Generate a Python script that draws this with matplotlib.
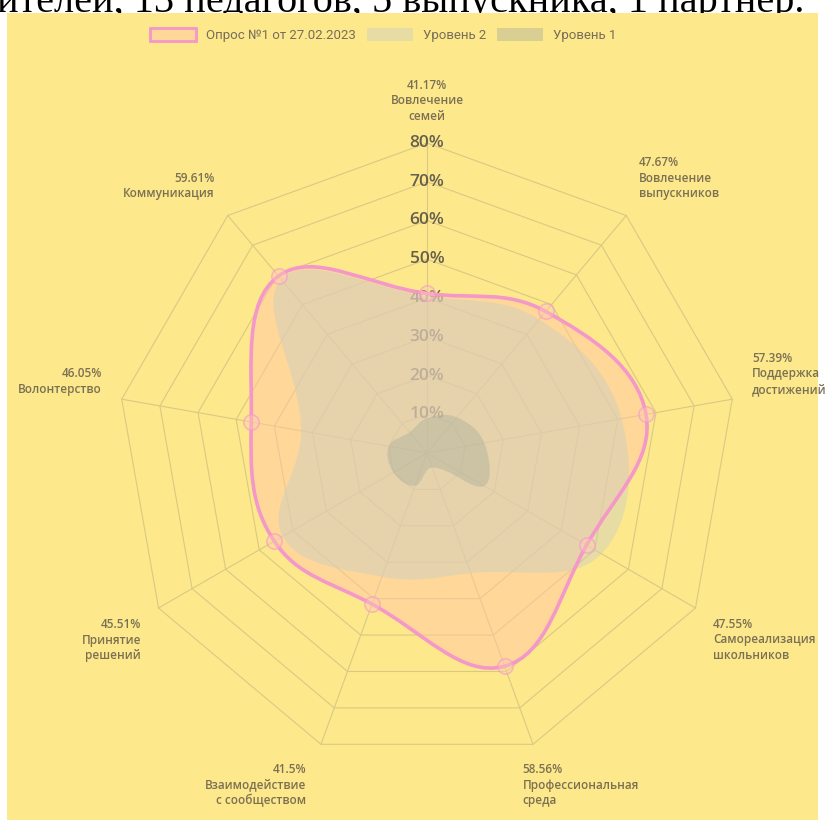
import numpy as np
import matplotlib
matplotlib.use("Agg")
import matplotlib.pyplot as plt
from matplotlib.path import Path
from matplotlib.patches import PathPatch, Patch, Rectangle

# данные опроса
categories = ["Вовлечение\nсемей", "Вовлечение\nвыпускников", "Поддержка\nдостижений",
              "Самореализация\nшкольников", "Профессиональная\nсреда",
              "Взаимодействие\nс сообществом", "Принятие\nрешений", "Волонтерство",
              "Коммуникация"]
survey = [41.17, 47.67, 57.39, 47.55, 58.56, 41.5, 45.51, 46.05, 59.61]
level2 = [40.5, 45, 51, 52, 33, 34, 43, 33, 58.5]
level1 = [9, 12, 15, 17, 4, 9, 10, 10, 7]
ticks = [10, 20, 30, 40, 50, 60, 70, 80]
rmax = 80

legend_labels = ["Опрос №1 от 27.02.2023", "Уровень 2", "Уровень 1"]
header = "ителей, 13 педагогов, 5 выпускника, 1 партнер."

yellow = "#fde88c"
pink = "#f497c9"
orange = (1.0, 0.78, 0.65, 0.5)
gray = (0.80, 0.81, 0.76, 0.45)
green = (0.66, 0.68, 0.61, 0.42)
gridc = "#dac983"
txtc = "#7a7052"

S = 3.875  # пикселей на 1%
cx, cy = 427, 453

n = len(categories)
ang = np.deg2rad(np.arange(n) * 360 / n)


def xy(vals):
    v = np.asarray(vals, dtype=float)
    return v * np.sin(ang), v * np.cos(ang)


def spline_path(vals, t=0.4):
    x, y = xy(vals)
    pts = np.column_stack([x, y])
    cps = []
    for i in range(n):
        p0, p1, p2 = pts[i - 1], pts[i], pts[(i + 1) % n]
        d01 = np.hypot(*(p1 - p0))
        d12 = np.hypot(*(p2 - p1))
        fa = t * d01 / (d01 + d12)
        fb = t * d12 / (d01 + d12)
        cps.append((p1 - fa * (p2 - p0), p1 + fb * (p2 - p0)))
    verts = [pts[0]]
    codes = [Path.MOVETO]
    for i in range(n):
        j = (i + 1) % n
        verts += [cps[i][1], cps[j][0], pts[j]]
        codes += [Path.CURVE4] * 3
    verts.append(pts[0])
    codes.append(Path.CLOSEPOLY)
    return Path(verts, codes)


fig = plt.figure(figsize=(8.25, 8.25), dpi=100, facecolor="white")
fig.patches.append(Rectangle((7 / 825, 5 / 825), 811 / 825, 807 / 825,
                             transform=fig.transFigure, facecolor=yellow,
                             edgecolor="none", zorder=-1))
fig.text(-0.004, 1 - 12 / 825, header, fontfamily="Liberation Serif",
         fontsize=29, color="black", va="baseline", ha="left", zorder=-2)

ax = fig.add_axes([0, 0, 1, 1])
ax.set_xlim(-cx / S, (825 - cx) / S)
ax.set_ylim(-(825 - cy) / S, cy / S)
ax.axis("off")
ax.patch.set_visible(False)

# сетка
for r in ticks:
    gx, gy = xy([r] * n)
    ax.plot(np.append(gx, gx[0]), np.append(gy, gy[0]), color=gridc, lw=0.8, zorder=1)
ox, oy = xy([rmax] * n)
for i in range(n):
    ax.plot([0, ox[i]], [0, oy[i]], color=gridc, lw=0.8, zorder=1)

for r in ticks:
    ax.text(0, r, f"{r}%", ha="center", va="center", fontsize=12.5,
            fontfamily="Open Sans", fontweight="semibold", color="#665f4c", zorder=1.5)

# заливки
ax.add_patch(PathPatch(spline_path(survey), facecolor=orange, edgecolor="none", zorder=2))
ax.add_patch(PathPatch(spline_path(level2), facecolor=gray, edgecolor="none", zorder=3))
ax.add_patch(PathPatch(spline_path(level1), facecolor=green, edgecolor="none", zorder=4))
ax.add_patch(PathPatch(spline_path(survey), facecolor="none", edgecolor=pink, lw=2.6, zorder=5))
px, py = xy(survey)
ax.plot(px, py, "o", ms=11, mfc=(1.0, 0.8, 0.7, 0.4), mec=(0.96, 0.6, 0.8, 0.6),
        mew=1.2, zorder=6)

# подписи осей
rl = rmax + 20 / S
lx, ly = xy([rl] * n)
for i in range(n):
    a = i * 360 / n
    if a == 0 or a == 180:
        ha = "center"
    elif a < 180:
        ha = "left"
    else:
        ha = "right"
    if a == 90 or a == 270:
        va = "center"
    elif a < 90 or a > 270:
        va = "bottom"
    else:
        va = "top"
    dx = 0
    if 150 < a < 180:
        dx = -4.5  # нижние подписи чуть левее, как в исходнике
    elif 180 < a < 210:
        dx = -2
    ax.text(lx[i] + dx, ly[i], f"{survey[i]}%\n{categories[i]}", ha=ha, va=va,
            fontsize=8.5, fontfamily="Open Sans", fontweight="semibold",
            color=txtc, linespacing=1.25, zorder=7)

handles = [Patch(facecolor=orange, edgecolor=pink, lw=2),
           Patch(facecolor=gray, edgecolor="none"),
           Patch(facecolor=green, edgecolor="none")]
fig.legend(handles, legend_labels, loc="center", bbox_to_anchor=(383 / 825, 1 - 35 / 825),
           ncol=3, frameon=False, prop={"family": "Roboto", "size": 9.5},
           labelcolor="#786e58", handlelength=3.5, handleheight=1.2,
           handletextpad=0.75, columnspacing=0.85)

fig.savefig("out.png", dpi=100, facecolor="white")
